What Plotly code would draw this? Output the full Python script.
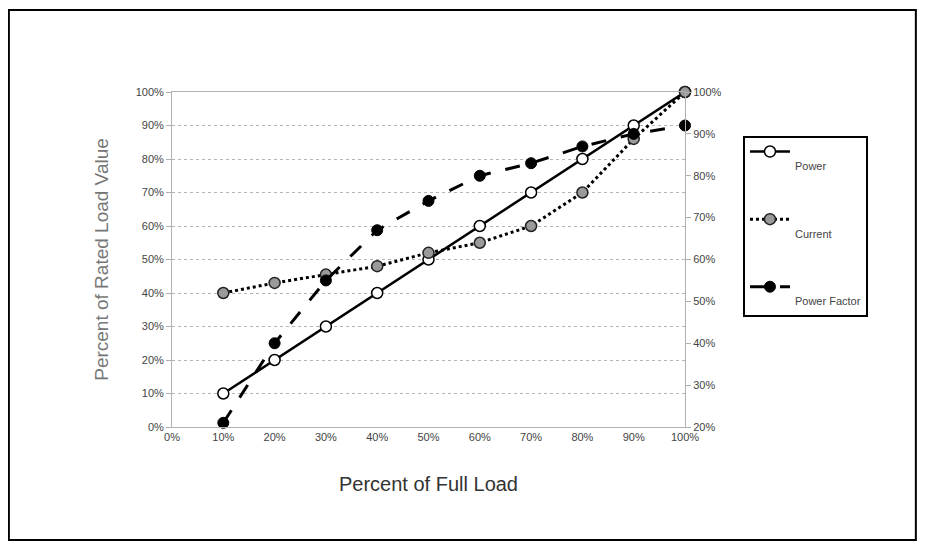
import plotly.graph_objects as go

load = [10, 20, 30, 40, 50, 60, 70, 80, 90, 100]
power = [10, 20, 30, 40, 50, 60, 70, 80, 90, 100]
current = [40, 43, 45.5, 48, 52, 55, 60, 70, 86, 100]
power_factor = [21, 40, 55, 67, 74, 80, 83, 87, 90, 92]

x_ticks = list(range(0, 101, 10))
x_labels = [f"{v}%" for v in x_ticks]
left_ticks = list(range(0, 101, 10))
left_labels = [f"{v}%" for v in left_ticks]
right_ticks = list(range(20, 101, 10))
right_labels = [f"{v}%" for v in right_ticks]

FONT = "Liberation Sans Narrow, Arial Narrow, Liberation Sans, Arial, sans-serif"

fig = go.Figure()

fig.add_trace(go.Scatter(
    x=load, y=power, name="&nbsp;<br>Power", legendgroup="p", mode="lines+markers",
    line=dict(color="black", width=2.5),
    marker=dict(size=11, color="white", line=dict(color="black", width=1.5)),
    cliponaxis=False,
))
fig.add_trace(go.Scatter(
    x=load, y=current, name="&nbsp;<br>Current", legendgroup="c", mode="lines+markers",
    line=dict(color="black", width=3, dash="dot"),
    marker=dict(size=11, color="#9a9a9a", line=dict(color="#222", width=1.5)),
    cliponaxis=False,
))
fig.add_trace(go.Scatter(
    x=load, y=power_factor, name="&nbsp;<br>Power Factor", legendgroup="pf", mode="lines+markers",
    yaxis="y2",
    line=dict(color="black", width=3, dash="longdash"),
    marker=dict(size=11, color="black", line=dict(color="black", width=1)),
    cliponaxis=False,
))

# outer frame around the whole picture
fig.add_shape(type="rect", xref="paper", yref="paper",
              x0=-0.318, x1=1.450, y0=-0.337, y1=1.245,
              line=dict(color="black", width=2), fillcolor="rgba(0,0,0,0)")

fig.update_layout(
    width=925, height=550,
    margin=dict(l=164, r=248, t=84, b=131),
    paper_bgcolor="white", plot_bgcolor="white",
    font=dict(family=FONT, color="#444", size=11),
    xaxis=dict(
        range=[0, 100], tickvals=x_ticks, ticktext=x_labels,
        showgrid=False, zeroline=False,
        showline=True, mirror=True, linecolor="#b0b0b0", linewidth=1,
        ticks="", tickfont=dict(size=11, color="#444"),
        title=dict(text="Percent of Full Load", font=dict(size=20, color="#333"), standoff=34),
    ),
    yaxis=dict(
        range=[0, 100], tickvals=left_ticks, ticktext=left_labels,
        showgrid=True, gridcolor="#b5b5b5", griddash="dot", gridwidth=1,
        zeroline=False, showline=True, linecolor="#b0b0b0",
        ticks="outside", ticklen=5, tickcolor="#b0b0b0",
        tickfont=dict(size=11, color="#444"),
        title=dict(text="Percent of Rated Load Value", font=dict(size=19, color="#777"), standoff=22),
    ),
    yaxis2=dict(
        range=[20, 100], tickvals=right_ticks, ticktext=right_labels,
        overlaying="y", side="right", showgrid=False, zeroline=False,
        showline=True, linecolor="#b0b0b0",
        ticks="outside", ticklen=5, tickcolor="#b0b0b0",
        tickfont=dict(size=11, color="#444"),
    ),
    legend=dict(
        x=1.113, y=0.869, xanchor="left", yanchor="top",
        bgcolor="white", bordercolor="black", borderwidth=2,
        font=dict(size=11, color="#444"),
        itemwidth=40, tracegroupgap=36, valign="top",
    ),
    showlegend=True,
)

fig.write_html("out.html")
